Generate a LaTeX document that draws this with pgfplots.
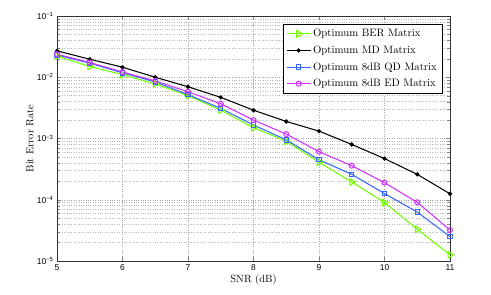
\documentclass[border=0pt]{standalone}
\usepackage{pgfplots}
\pgfplotsset{compat=1.18}
\usepackage{fontspec}
\newfontfamily\arial{Liberation Sans}
\definecolor{cgreen}{rgb}{0.45,1,0}
\definecolor{cblue}{rgb}{0.2,0.4,1}
\definecolor{cmag}{rgb}{0.8,0.2,1}
\begin{document}
\begin{tikzpicture}
\begin{axis}[
  scale only axis, width=393bp, height=245bp,
  xmin=5, xmax=11, ymin=1e-5, ymax=1e-1, ymode=log,
  xtick={5,6,7,8,9,10,11},
  ytick={1e-5,1e-4,1e-3,1e-2,1e-1},
  yticklabels={10\textsuperscript{−5},10\textsuperscript{−4},10\textsuperscript{−3},10\textsuperscript{−2},10\textsuperscript{−1}},
  /pgf/number format/assume math mode=true,
  tick label style={font=\arial\fontsize{8.5}{10}\selectfont},
  label style={font=\fontsize{10.5}{12}\selectfont},
  xlabel={SNR (dB)}, ylabel={Bit Error Rate},
  xlabel style={at={(axis description cs:0.5,-0.078)}, anchor=center},
  ylabel style={at={(axis description cs:-0.069,0.5)}, anchor=center},
  grid=both,
  major grid style={dotted, gray!70},
  minor grid style={dotted, gray!55},
  minor x tick num=0,
  axis line style={black!80, line width=0.6pt},
  legend style={at={(0.98,0.967)}, anchor=north east, draw=black, line width=0.6pt,
    font=\fontsize{10.8}{13}\selectfont, row sep=3.5bp, inner xsep=3bp, inner ysep=3bp},
  legend cell align=left,
  legend image code/.code={
    \draw[mark repeat=2, mark phase=2] plot coordinates {(0cm,0cm) (0.42cm,0cm) (0.84cm,0cm)};
  },
  every axis plot/.append style={line width=1.05pt},
]
\addplot[cgreen, mark=triangle, mark size=3.8pt, mark options={rotate=-90, fill=none, solid}] coordinates {
 (5,0.022) (5.5,0.015) (6,0.011) (6.5,0.0078) (7,0.005) (7.5,0.0029) (8,0.0015) (8.5,0.0009) (9,0.00041) (9.5,0.000195) (10,0.00009) (10.5,0.000033) (11,0.0000126)};
\addlegendentry{Optimum BER Matrix}
\addplot[black, mark=*, mark size=1.6pt] coordinates {
 (5,0.027) (5.5,0.0197) (6,0.0146) (6.5,0.0100) (7,0.0070) (7.5,0.0047) (8,0.0029) (8.5,0.0019) (9,0.00132) (9.5,0.00080) (10,0.00047) (10.5,0.00026) (11,0.000125)};
\addlegendentry{Optimum MD Matrix}
\addplot[cblue, mark=square, mark size=2.2pt, mark options={fill=none}] coordinates {
 (5,0.023) (5.5,0.017) (6,0.0118) (6.5,0.0084) (7,0.0052) (7.5,0.0031) (8,0.00166) (8.5,0.00095) (9,0.00045) (9.5,0.00026) (10,0.000126) (10.5,0.000063) (11,0.000025)};
\addlegendentry{Optimum 8dB QD Matrix}
\addplot[cmag, mark=o, mark size=2.5pt] coordinates {
 (5,0.0238) (5.5,0.0174) (6,0.0122) (6.5,0.0087) (7,0.0058) (7.5,0.0037) (8,0.0020) (8.5,0.00118) (9,0.00061) (9.5,0.00036) (10,0.00019) (10.5,0.000091) (11,0.000032)};
\addlegendentry{Optimum 8dB ED Matrix}
\end{axis}
\pgfresetboundingbox
\path ([shift={(-57bp,-34bp)}]current axis.south west) rectangle ([shift={(41bp,16bp)}]current axis.north east);
\end{tikzpicture}
\end{document}
